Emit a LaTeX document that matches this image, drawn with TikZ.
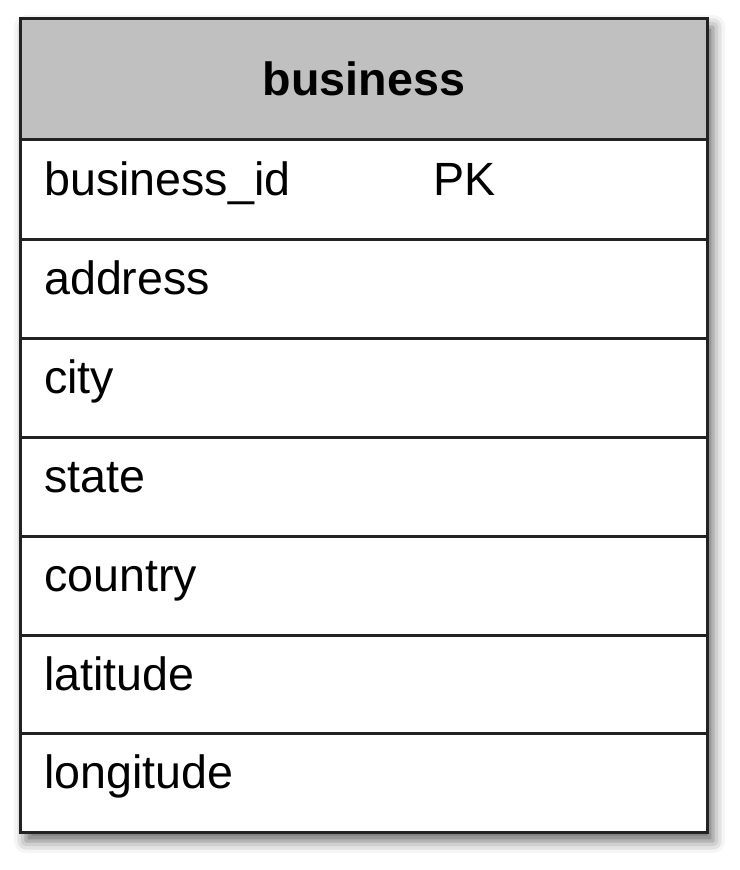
\documentclass[tikz,border=0pt]{standalone}
\usepackage{fontspec}
\setmainfont{Liberation Sans}
\usetikzlibrary{shadows.blur}
\definecolor{hdr}{HTML}{C0C0C0}
\definecolor{edge}{HTML}{222222}
\tikzset{
  field/.style={anchor=base west, inner sep=0pt, font=\fontsize{46.8}{50}\selectfont},
  title/.style={anchor=base, inner sep=0pt, font=\fontsize{46.8}{50}\selectfont\bfseries},
  rule/.style={draw=edge, line width=3bp},
}
\begin{document}
\begin{tikzpicture}[x=1bp, y=-1bp]
\useasboundingbox (0,0) rectangle (740,870);
% shadowed table body
\fill[white, blur shadow={shadow xshift=6bp, shadow yshift=-9bp, shadow blur radius=12bp, shadow opacity=60}] (20,18) rectangle (707,832);
\fill[hdr] (20,18) rectangle (707,139);
\foreach \y in {139,239,338,437,536,635,733}
  \draw[rule] (20,\y) -- (707,\y);
\draw[rule] (20,18) rectangle (707,832);
\node[title] (t) at (364,95) {business};
\node[field] (f1) at (44,195) {business\_id};
\node[field] (pk) at (433,195) {PK};
\node[field] (f2) at (44,294) {address};
\node[field] (f3) at (44,393) {city};
\node[field] (f4) at (44,492) {state};
\node[field] (f5) at (44,591) {country};
\node[field] (f6) at (44,690) {latitude};
\node[field] (f7) at (44,788) {longitude};
\end{tikzpicture}
\end{document}
